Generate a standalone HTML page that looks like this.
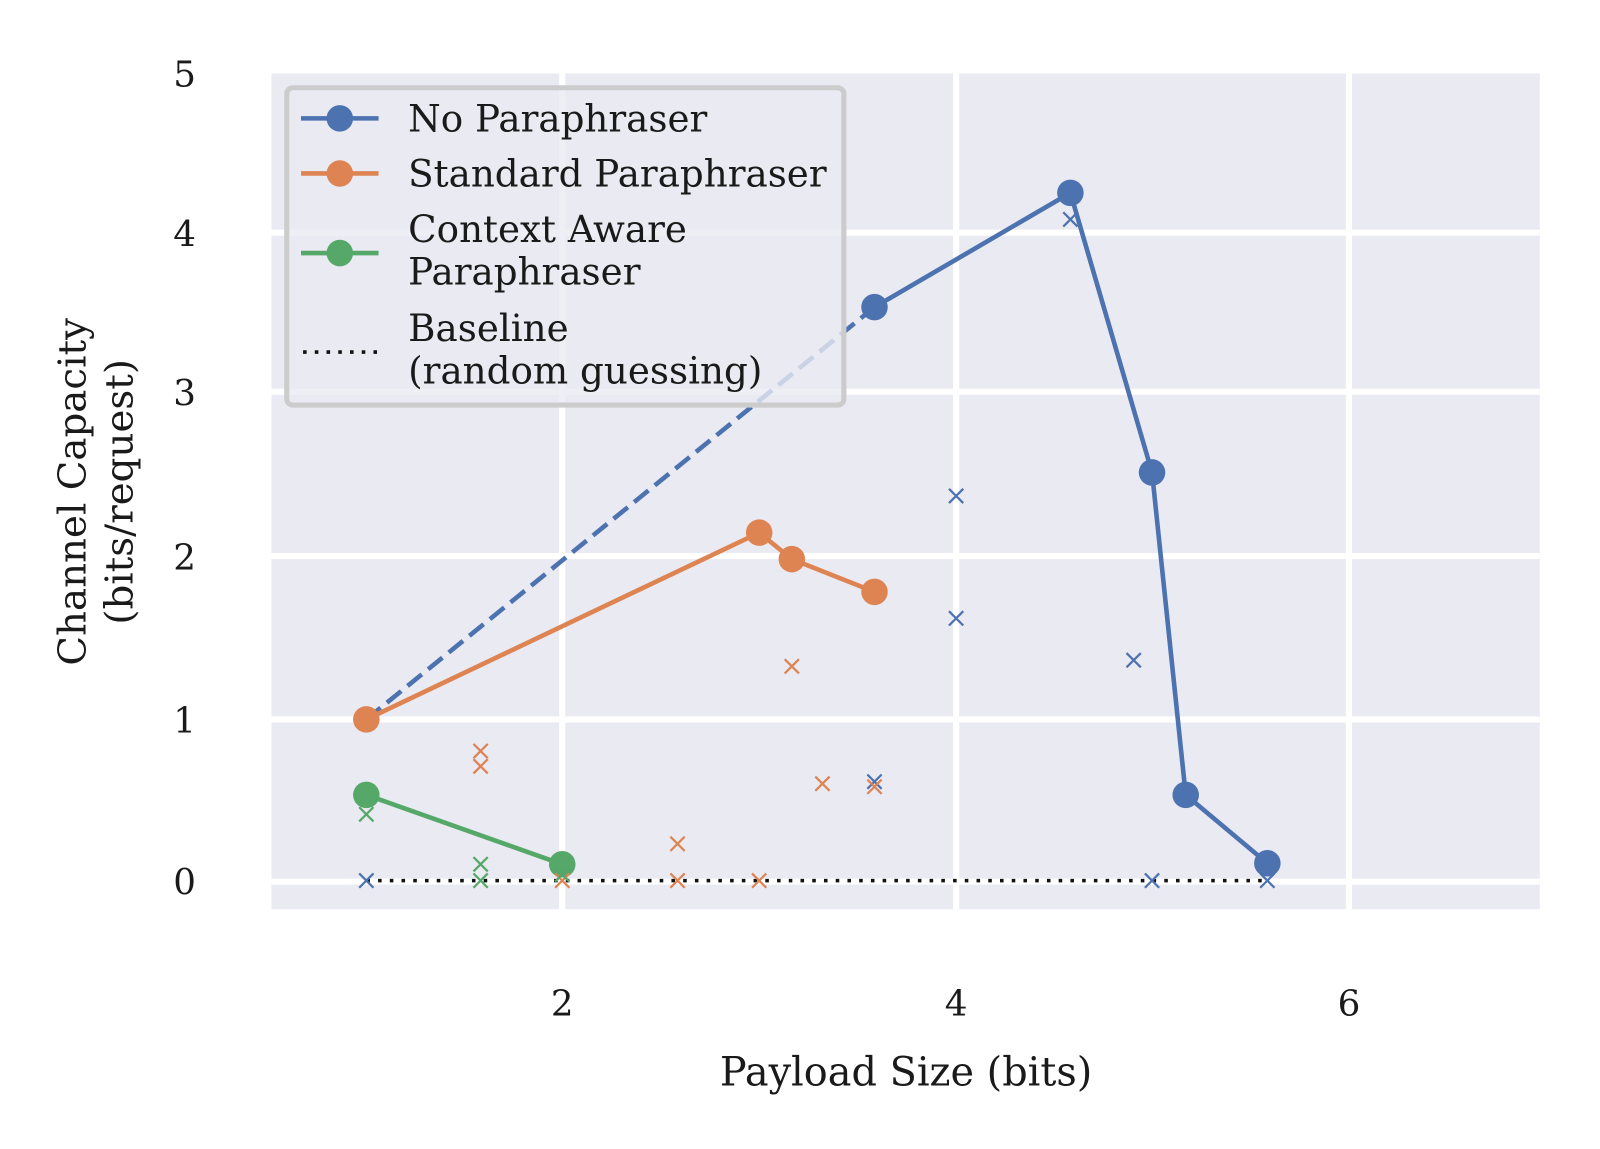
<!DOCTYPE html>
<html><head><meta charset="utf-8"><style>
html,body{margin:0;padding:0;background:#fff;}
svg{display:block;font-family:"DejaVu Serif","Liberation Serif",serif;}
</style></head><body>
<svg width="1600" height="1149" viewBox="0 0 1600 1149" xmlns="http://www.w3.org/2000/svg">
<g transform="scale(1.0204)">
<rect x="266" y="72" width="1243" height="819" fill="#eaeaf2"/>
<g stroke="#fff" stroke-width="6">
<line x1="551" y1="72" x2="551" y2="891"/>
<line x1="937" y1="72" x2="937" y2="891"/>
<line x1="1322" y1="72" x2="1322" y2="891"/>
<line x1="266" y1="864" x2="1509" y2="864"/>
<line x1="266" y1="705" x2="1509" y2="705"/>
<line x1="266" y1="545" x2="1509" y2="545"/>
<line x1="266" y1="384" x2="1509" y2="384"/>
<line x1="266" y1="228" x2="1509" y2="228"/>
</g>
<g font-size="35" fill="#1a1a1a" text-anchor="end">
<text x="192" y="876">0</text><text x="192" y="718">1</text><text x="192" y="558">2</text>
<text x="192" y="397">3</text><text x="192" y="241">4</text><text x="192" y="85">5</text>
</g>
<g font-size="35" fill="#1a1a1a" text-anchor="middle">
<text x="551" y="995">2</text><text x="937" y="995">4</text><text x="1322" y="995">6</text>
<text x="888" y="1064" font-size="39">Payload Size (bits)</text>
</g>
<g font-size="38" fill="#1a1a1a" text-anchor="middle">
<text transform="translate(84,482) rotate(-90)">Channel Capacity</text>
<text transform="translate(130,482) rotate(-90)">(bits/request)</text>
</g>
<line x1="359" y1="863" x2="1242" y2="863" stroke="#111" stroke-width="3.5" stroke-dasharray="3.5,8"/>
<line x1="359" y1="705" x2="857" y2="301" stroke="#4c72b0" stroke-width="4.5" stroke-dasharray="18,8"/>
<polyline points="857,301 1049,189 1129,463 1162,779 1242,846" fill="none" stroke="#4c72b0" stroke-width="4.5"/>
<g fill="#4c72b0"><circle cx="857" cy="301" r="13"/><circle cx="1049" cy="189" r="13"/><circle cx="1129" cy="463" r="13"/><circle cx="1162" cy="779" r="13"/><circle cx="1242" cy="846" r="13"/></g>
<polyline points="359,705 744,522 776,548 857,580" fill="none" stroke="#dd8452" stroke-width="4.5"/>
<g fill="#dd8452"><circle cx="359" cy="705" r="13"/><circle cx="744" cy="522" r="13"/><circle cx="776" cy="548" r="13"/><circle cx="857" cy="580" r="13"/></g>
<polyline points="359,779 551,847" fill="none" stroke="#55a868" stroke-width="4.5"/>
<g fill="#55a868"><circle cx="359" cy="779" r="13"/><circle cx="551" cy="847" r="13"/></g>
<defs><path id="xm" d="M-7,-7L7,7M-7,7L7,-7" stroke-width="2.2"/></defs>
<g stroke="#4c72b0">
<use href="#xm" x="359" y="863"/><use href="#xm" x="551" y="857"/><use href="#xm" x="857" y="766"/>
<use href="#xm" x="937" y="486"/><use href="#xm" x="937" y="606"/><use href="#xm" x="1049" y="215"/>
<use href="#xm" x="1111" y="647"/><use href="#xm" x="1129" y="863"/><use href="#xm" x="1242" y="863"/>
</g>
<g stroke="#dd8452">
<use href="#xm" x="471" y="736"/><use href="#xm" x="471" y="751"/><use href="#xm" x="551" y="863"/>
<use href="#xm" x="664" y="827"/><use href="#xm" x="664" y="863"/><use href="#xm" x="744" y="863"/>
<use href="#xm" x="776" y="653"/><use href="#xm" x="806" y="768"/><use href="#xm" x="857" y="771"/>
</g>
<g stroke="#55a868">
<use href="#xm" x="359" y="798"/><use href="#xm" x="471" y="847"/><use href="#xm" x="471" y="863"/><use href="#xm" x="551" y="857"/>
</g>
<rect x="281" y="86" width="546" height="311" rx="6" fill="#eaeaf2" fill-opacity="0.8" stroke="#ccc" stroke-width="5"/>
<line x1="295" y1="116" x2="371" y2="116" stroke="#4c72b0" stroke-width="4.5"/><circle cx="333" cy="116" r="13" fill="#4c72b0"/>
<line x1="295" y1="170" x2="371" y2="170" stroke="#dd8452" stroke-width="4.5"/><circle cx="333" cy="170" r="13" fill="#dd8452"/>
<line x1="295" y1="248" x2="371" y2="248" stroke="#55a868" stroke-width="4.5"/><circle cx="333" cy="248" r="13" fill="#55a868"/>
<line x1="297" y1="345" x2="371" y2="345" stroke="#111" stroke-width="3.5" stroke-dasharray="3.5,8"/>
<g font-size="36.5" fill="#1a1a1a">
<text x="400" y="129">No Paraphraser</text>
<text x="400" y="183">Standard Paraphraser</text>
<text x="400" y="237">Context Aware</text>
<text x="400" y="279">Paraphraser</text>
<text x="400" y="334">Baseline</text>
<text x="400" y="376">(random guessing)</text>
</g>
</g>
</svg>
</body></html>
